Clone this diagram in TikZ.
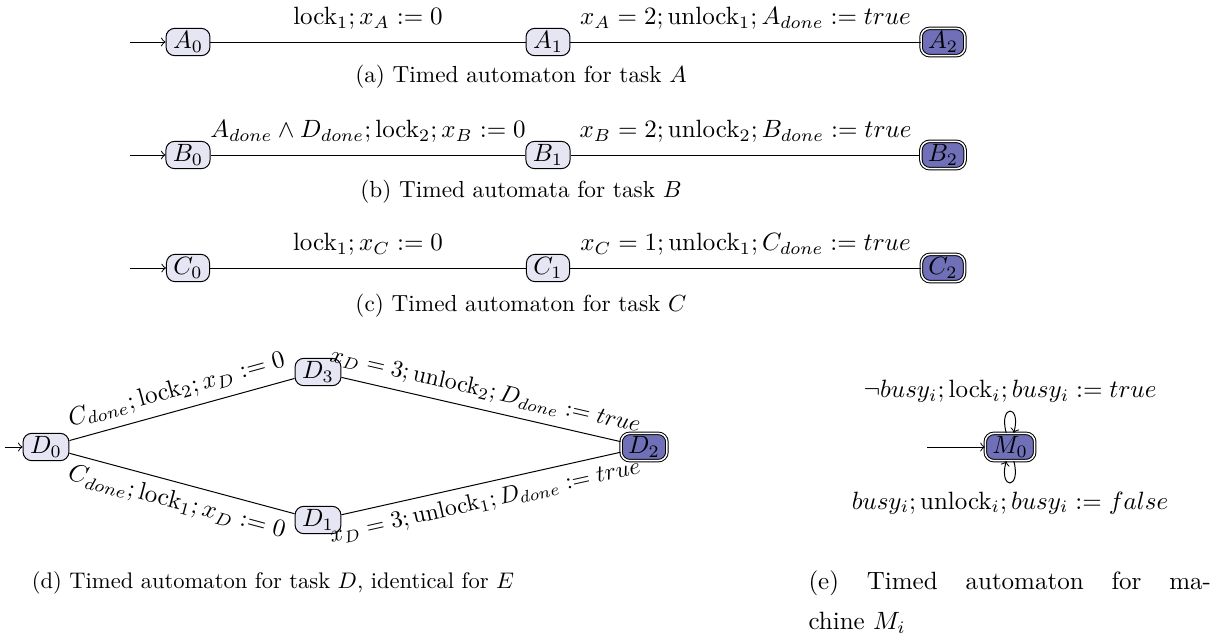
\documentclass[tikz,border=0pt]{standalone}
\usetikzlibrary{arrows}
\usetikzlibrary{positioning}
\tikzset{>=to}
\definecolor{statecol}{RGB}{229,229,244}
\definecolor{finalcol}{RGB}{112,112,184}
\tikzset{
  loc/.style={draw,rounded corners=3.5pt,fill=statecol,inner xsep=2.8pt,inner ysep=1.3pt},
  final/.style={loc,double,fill=finalcol},
  lbl/.style={above=1.5pt},
  subcap/.style={align=center,scale=0.93},
  every loop/.style={min distance=4.2mm,looseness=7}}
\newcommand{\op}[1]{\mathrm{#1}}

\begin{document}
\begin{tikzpicture}[x=0.4pt,y=-0.4pt]
  \useasboundingbox (0,0) rectangle (1216,641);
  \def\ya{42}   % row task A
  \def\yb{155}  % row task B
  \def\yc{268}  % row task C
  \def\yd{447}  % middle row task D
  
  % TASK A
  \node[loc] (A0) at (188,\ya) {$A_0$};
  \node[loc] (A1) at (548,\ya) {$A_1$};
  \node[final] (A2) at (943,\ya) {$A_2$};
  \coordinate (Ai) at (130,\ya);
  \draw[->] (Ai) -- (A0);
  \draw (A0) -- node[lbl] {$\op{lock}_1; x_A := 0$} (A1);
  \draw (A1) -- node[lbl] {$x_A = 2; \op{unlock}_1; A_{done} := true$} (A2);
  \node[subcap] (capA) at (521,77) {(a) Timed automaton for task $A$};
  
  % TASK B
  \node[loc] (B0) at (188,\yb) {$B_0$};
  \node[loc] (B1) at (548,\yb) {$B_1$};
  \node[final] (B2) at (943,\yb) {$B_2$};
  \coordinate (Bi) at (130,\yb);
  \draw[->] (Bi) -- (B0);
  \draw (B0) -- node[lbl] {$A_{done} \wedge D_{done}; \op{lock}_2; x_B := 0$} (B1);
  \draw (B1) -- node[lbl] {$x_B = 2; \op{unlock}_2; B_{done} := true$} (B2);
  \node[subcap] (capB) at (521,192) {(b) Timed automata for task $B$};
  
  % TASK C
  \node[loc] (C0) at (188,\yc) {$C_0$};
  \node[loc] (C1) at (548,\yc) {$C_1$};
  \node[final] (C2) at (943,\yc) {$C_2$};
  \coordinate (Ci) at (130,\yc);
  \draw[->] (Ci) -- (C0);
  \draw (C0) -- node[lbl] {$\op{lock}_1; x_C := 0$} (C1);
  \draw (C1) -- node[lbl] {$x_C = 1; \op{unlock}_1; C_{done} := true$} (C2);
  \node[subcap] (capC) at (521,306) {(c) Timed automaton for task $C$};
  
  % TASK D
  \node[loc] (D0) at (46,\yd) {$D_0$};
  \node[loc] (D3) at (318,372) {$D_3$};
  \node[loc] (D1) at (318,520) {$D_1$};
  \node[final] (D2) at (644,\yd) {$D_2$};
  \coordinate (Di) at (5,\yd);
  \draw[->] (Di) -- (D0);
  \draw (D0) -- node[above,sloped] {$C_{done}; \op{lock}_2; x_D := 0$} (D3);
  \draw (D3) -- node[above,sloped,scale=0.95] {$x_D = 3; \op{unlock}_2; D_{done} := true$} (D2);
  \draw (D0) -- node[below,sloped] {$C_{done}; \op{lock}_1; x_D := 0$} (D1);
  \draw (D1) -- node[below,sloped,scale=0.95] {$x_D = 3; \op{unlock}_1; D_{done} := true$} (D2);
  \node[subcap,scale=0.97] (capD) at (273,583) {(d) Timed automaton for task $D$, identical for $E$};
  
  % MACHINE
  \node[final] (M0) at (1010,\yd) {$M_0$};
  \coordinate (Mi) at (927,\yd);
  \draw[->] (Mi) -- (M0);
  \draw[->] (M0) to[loop above] node[above] {$\neg busy_i; \op{lock}_i; busy_i := true$} (M0);
  \draw[->] (M0) to[loop below] node[below] {$busy_i; \op{unlock}_i; busy_i := false$} (M0);
  \node[anchor=north west,text width=161pt,align=justify,inner sep=0pt,
        font=\fontsize{10}{16}\selectfont] (capE) at (808,570)
    {(e) Timed automaton for ma-\linebreak chine $M_i$};
\end{tikzpicture}
\end{document}
